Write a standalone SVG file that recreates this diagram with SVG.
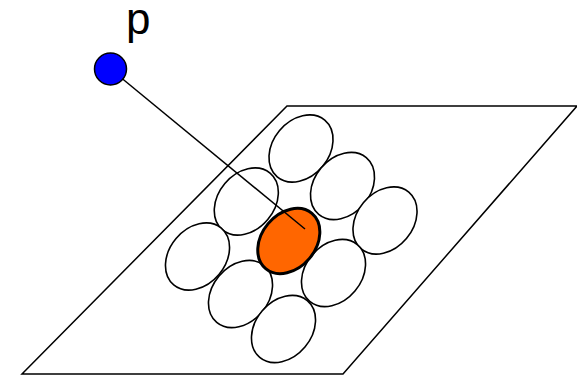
<svg xmlns="http://www.w3.org/2000/svg" width="577" height="375" viewBox="0 0 577 375">
<style>
.plane{fill:none;stroke:#000;stroke-width:1.5}
.cell{fill:#fff;stroke:#000;stroke-width:1.6}
.sel{fill:#FF6600;stroke:#000;stroke-width:3}
.ray{stroke:#000;stroke-width:1.5;fill:none}
.pt{fill:#0000FF;stroke:#000;stroke-width:1.5}
.lbl{font-family:"Liberation Sans",Arial,sans-serif;font-size:44px;fill:#000}
</style>
<rect width="577" height="375" fill="#fff"/>
<g id="plane"><polygon class="plane" points="287,106 577,106 343,374 22,374"/></g>
<g id="cells">
<g id="c-top"><ellipse class="cell" rx="37" ry="28" transform="translate(301,148.5) rotate(-50)"/></g>
<g id="c-ur"><ellipse class="cell" rx="37" ry="28" transform="translate(342.5,186) rotate(-50)"/></g>
<g id="c-r"><ellipse class="cell" rx="37" ry="28" transform="translate(385,220.5) rotate(-50)"/></g>
<g id="c-ul"><ellipse class="cell" rx="37" ry="28" transform="translate(246.3,201.5) rotate(-50)"/></g>
<g id="c-lr"><ellipse class="cell" rx="37" ry="28" transform="translate(333.5,273) rotate(-50)"/></g>
<g id="c-l"><ellipse class="cell" rx="37" ry="28" transform="translate(197.5,256.5) rotate(-50)"/></g>
<g id="c-ll"><ellipse class="cell" rx="37" ry="28" transform="translate(240.5,294) rotate(-50)"/></g>
<g id="c-b"><ellipse class="cell" rx="37" ry="28" transform="translate(283.5,329) rotate(-50)"/></g>
<g id="c-center"><ellipse class="sel" rx="36" ry="27" transform="translate(288.8,241) rotate(-50)"/></g>
</g>
<g id="connectors"><line class="ray" x1="110.5" y1="69" x2="305" y2="229"/></g>
<g id="p"><circle class="pt" cx="110.5" cy="69" r="16"/><text class="lbl" x="126" y="33.5">p</text></g>
</svg>
